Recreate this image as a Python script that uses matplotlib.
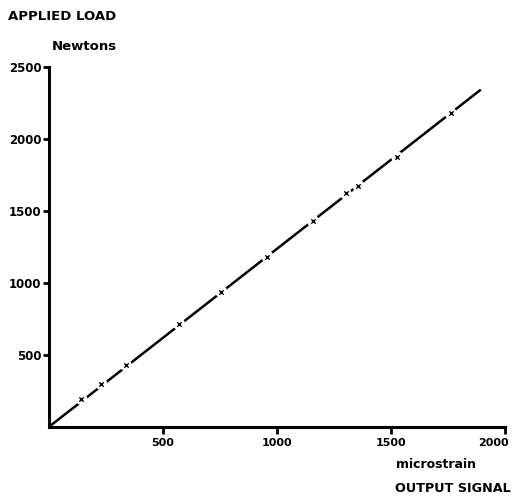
import numpy as np
import matplotlib
matplotlib.use("Agg")
import matplotlib.pyplot as plt
from matplotlib.transforms import ScaledTranslation

# calibration readings: output signal (microstrain) vs applied load (N)
strain = [142, 230, 336, 571, 755, 958, 1156, 1300, 1356, 1527, 1761]
load = [194, 297, 431, 713, 940, 1183, 1433, 1623, 1676, 1873, 2178]
x_ticks = [500, 1000, 1500, 2000]
y_ticks = [500, 1000, 1500, 2000, 2500]

plt.rcParams['font.family'] = ['DejaVu Sans']
plt.rcParams['font.weight'] = 'bold'

fig = plt.figure(figsize=(5.15, 5.01), dpi=100)
ax = fig.add_axes([0.095, 0.148, 0.886, 0.718])

# least-squares line through the origin
x = np.array(strain, dtype=float)
y = np.array(load, dtype=float)
slope = np.sum(x * y) / np.sum(x * x)
xf = np.array([0, 1893])
ax.plot(xf, slope * xf, color='black', lw=1.8, solid_capstyle='butt', zorder=2)

# gaps in the line at each reading, then the crosses
ax.scatter(strain, load, s=75, color='white', edgecolors='none', zorder=3)
ax.scatter(strain, load, s=10, marker='x', color='black', linewidths=1.0, zorder=4)

ax.set_xlim(0, 2000)
ax.set_ylim(0, 2500)
ax.set_xticks(x_ticks)
ax.set_yticks(y_ticks)
ax.tick_params(axis='x', direction='out', length=5, width=2, labelsize=8, pad=3)
ax.tick_params(axis='y', direction='out', length=4.3, width=2, labelsize=8.5, pad=1)
for lab in ax.get_xticklabels() + ax.get_yticklabels():
    lab.set_fontweight('bold')
# last x label sits a little left of its tick, as in the original
last = ax.get_xticklabels()[-1]
last.set_transform(last.get_transform() + ScaledTranslation(-12 / 100, 0, fig.dpi_scale_trans))

for side in ['top', 'right']:
    ax.spines[side].set_visible(False)
for side in ['left', 'bottom']:
    ax.spines[side].set_linewidth(2.2)

fig.text(8 / 515, 1 - 17 / 501, 'APPLIED LOAD', fontsize=9.5, fontweight='bold', va='center')
fig.text(52 / 515, 1 - 46 / 501, 'Newtons', fontsize=9.5, fontweight='bold', va='center')
fig.text(396 / 515, 1 - 465 / 501, 'microstrain', fontsize=9, fontweight='bold', va='center')
fig.text(395 / 515, 1 - 489 / 501, 'OUTPUT SIGNAL', fontsize=9.2, fontweight='bold', va='center')

fig.savefig('out.png', dpi=100)
plt.close(fig)
